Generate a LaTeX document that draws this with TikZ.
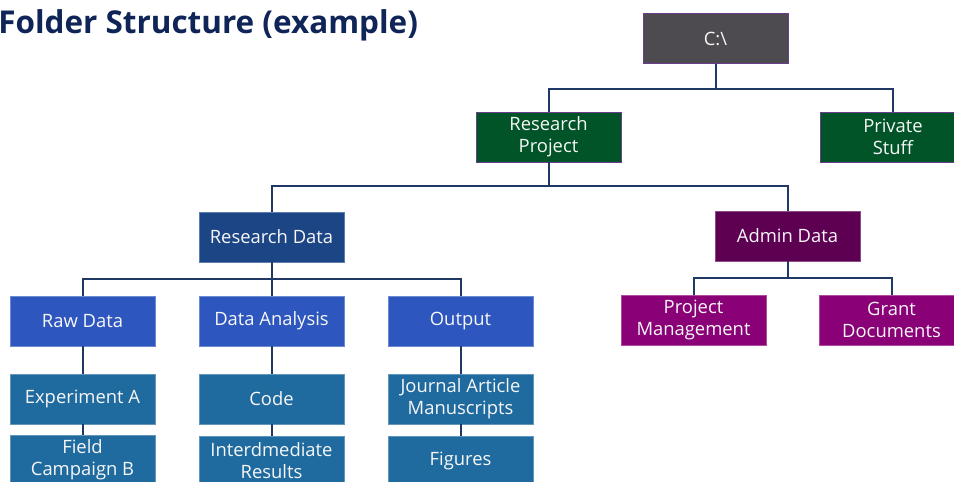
\documentclass[tikz,border=0pt]{standalone}
\usepackage{fontspec}
\setmainfont{Open Sans}
\definecolor{cgray}{HTML}{4E4B50}
\definecolor{cgreen}{HTML}{005428}
\definecolor{cdblue}{HTML}{1B4585}
\definecolor{cdpurple}{HTML}{5E0052}
\definecolor{cblue}{HTML}{2E56BF}
\definecolor{cmag}{HTML}{8A0077}
\definecolor{csteel}{HTML}{1F6A9E}
\definecolor{ctitle}{HTML}{0F2557}
\definecolor{cline}{HTML}{1F3864}
\definecolor{cedge}{HTML}{6A3E8E}
\begin{document}
\begin{tikzpicture}[x=0.75pt,y=-0.75pt,
  box/.style={rectangle,minimum width=108.75pt,minimum height=37.5pt,inner sep=0pt,outer sep=0pt,
    text=white!94!gray,align=center,font=\fontsize{13.8}{16.6}\selectfont,line width=0.6pt},
  conn/.style={draw=cline,line width=1.5pt}]
\useasboundingbox (0,0) rectangle (954,482);
\fill[white] (0,0) rectangle (954,482);
\node[anchor=base west,text=ctitle,font=\fontsize{23.6}{28}\selectfont\bfseries,inner sep=0pt] (title) at (-2,33) {Folder Structure (example)};
% level 0
\node[box,fill=cgray,draw=cedge] (c) at (715.5,38.5) {C:\textbackslash};
% level 1
\node[box,fill=cgreen,draw=cedge] (rp) at (548.5,137) {Research\\Project};
\node[box,fill=cgreen,draw=cedge] (ps) at (893,137) {Private\\Stuff};
% level 2
\node[box,fill=cdblue,draw=cdblue!70!white] (rd) at (271.5,237) {Research Data};
\node[box,fill=cdpurple,draw=cdpurple!70!white] (ad) at (787.5,236) {Admin Data};
% level 3
\node[box,fill=cblue,draw=cblue!70!white] (raw) at (82.5,321) {Raw Data};
\node[box,fill=cblue,draw=cblue!70!white] (da) at (271.5,321) {Data Analysis};
\node[box,fill=cblue,draw=cblue!70!white] (out) at (460.5,321) {Output};
\node[box,fill=cmag,draw=cmag!70!white] (pm) at (693.5,320) {Project\\Management};
\node[box,fill=cmag,draw=cmag!70!white] (gd) at (891.5,320) {Grant\\Documents};
% level 4
\node[box,fill=csteel,draw=csteel!70!white] (ea) at (82.5,399) {Experiment A};
\node[box,fill=csteel,draw=csteel!70!white] (code) at (271.5,399) {Code};
\node[box,fill=csteel,draw=csteel!70!white] (jam) at (460.5,399) {Journal Article\\Manuscripts};
% level 5
\node[box,fill=csteel,draw=csteel!70!white] (fcb) at (82.5,460) {Field\\Campaign B};
\node[box,fill=csteel,draw=csteel!70!white] (ir) at (271.5,461) {Interdmediate\\Results};
\node[box,fill=csteel,draw=csteel!70!white] (fig) at (460.5,461) {Figures};
% connectors
\draw[conn] (c.south) -- ++(0,25) -| (rp.north);
\draw[conn] (c.south) -- ++(0,25) -| (ps.north);
\draw[conn] (rp.south) -- ++(0,24) -| (rd.north);
\draw[conn] (rp.south) -- ++(0,24) -| (ad.north);
\draw[conn] (rd.south) -- ++(0,17) -| (raw.north);
\draw[conn] (rd.south) -- ++(0,17) -| (out.north);
\draw[conn] (rd.south) -- (da.north);
\draw[conn] (ad.south) -- ++(0,17) -| (pm.north);
\draw[conn] (ad.south) -- ++(0,17) -| (gd.north);
\draw[conn] (raw.south) -- (ea.north);
\draw[conn] (ea.south) -- (fcb.north);
\draw[conn] (da.south) -- (code.north);
\draw[conn] (code.south) -- (ir.north);
\draw[conn] (out.south) -- (jam.north);
\draw[conn] (jam.south) -- (fig.north);
\end{tikzpicture}
\end{document}
